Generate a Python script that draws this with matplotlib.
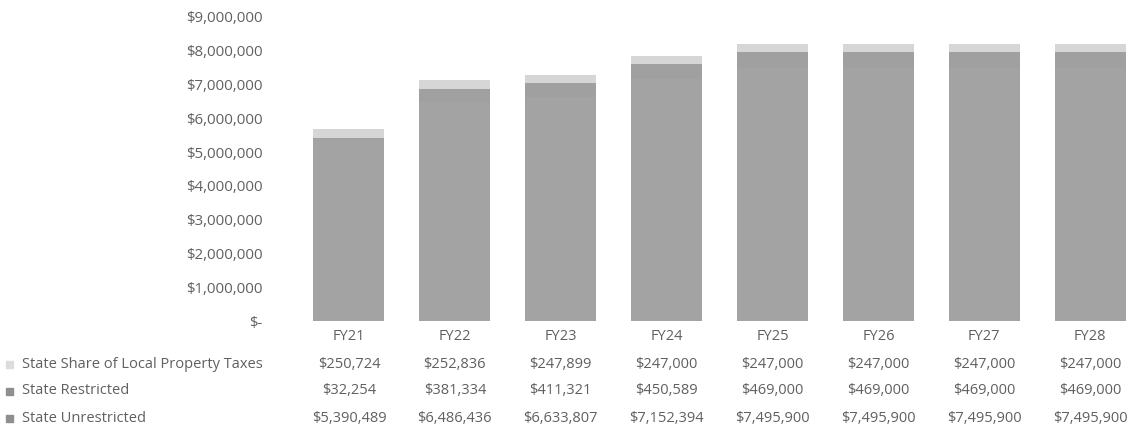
import matplotlib
matplotlib.use("Agg")
import matplotlib.pyplot as plt
import matplotlib.transforms as mtransforms
from matplotlib.ticker import FuncFormatter
import numpy as np

years = ["FY21", "FY22", "FY23", "FY24", "FY25", "FY26", "FY27", "FY28"]
unrestricted = [5390489, 6486436, 6633807, 7152394, 7495900, 7495900, 7495900, 7495900]
restricted = [32254, 381334, 411321, 450589, 469000, 469000, 469000, 469000]
property_share = [250724, 252836, 247899, 247000, 247000, 247000, 247000, 247000]
series_names = ["State Share of Local Property Taxes", "State Restricted", "State Unrestricted"]

text_color = "#606060"
plt.rcParams["font.family"] = ["Open Sans", "DejaVu Sans"]

fig = plt.figure(figsize=(11.31, 4.33), dpi=100)
ax = fig.add_axes([296 / 1131, 1 - 321 / 433, (1131 - 296) / 1131, (321 - 17) / 433])

x = np.arange(len(years))
w = 0.67
ax.bar(x, unrestricted, w, color="#a3a3a3")
ax.bar(x, restricted, w, bottom=unrestricted, color="#a0a0a0")
bottom2 = np.array(unrestricted) + np.array(restricted)
ax.bar(x, property_share, w, bottom=bottom2, color="#d6d6d6")

ax.set_xlim(-0.5, 7.385)
ax.set_ylim(0, 9000000)
ax.set_yticks(np.arange(0, 9000001, 1000000))


def money(v, pos=None):
    if v == 0:
        return "$-"
    return "${:,.0f}".format(v)


ax.yaxis.set_major_formatter(FuncFormatter(money))
ax.tick_params(axis="y", length=0, pad=24, labelsize=10.8, labelcolor=text_color)
ax.set_xticks([])
for s in ax.spines.values():
    s.set_visible(False)

# Data table below the axis
trans = mtransforms.blended_transform_factory(ax.transData, fig.transFigure)
def fy(py):
    return 1 - py / 433

for i, yr in enumerate(years):
    ax.text(i, fy(337), yr, transform=trans, ha="center", va="center",
            fontsize=10.5, color=text_color)

rows = [property_share, restricted, unrestricted]
row_y = [364, 391, 418]
key_colors = ["#dcdcdc", "#8f8f8f", "#8f8f8f"]
for name, vals, py, kc in zip(series_names, rows, row_y, key_colors):
    fig.text(22 / 1131, fy(py), name, ha="left", va="center", fontsize=10.5, color=text_color)
    fig.patches.append(plt.Rectangle((6 / 1131, fy(py) - 3.5 / 433), 7 / 1131, 7 / 433,
                                     transform=fig.transFigure, color=kc, figure=fig))
    for i, v in enumerate(vals):
        ax.text(i, fy(py), "${:,.0f}".format(v), transform=trans, ha="center", va="center",
                fontsize=10.5, color=text_color)

fig.savefig("out.png", dpi=100)
